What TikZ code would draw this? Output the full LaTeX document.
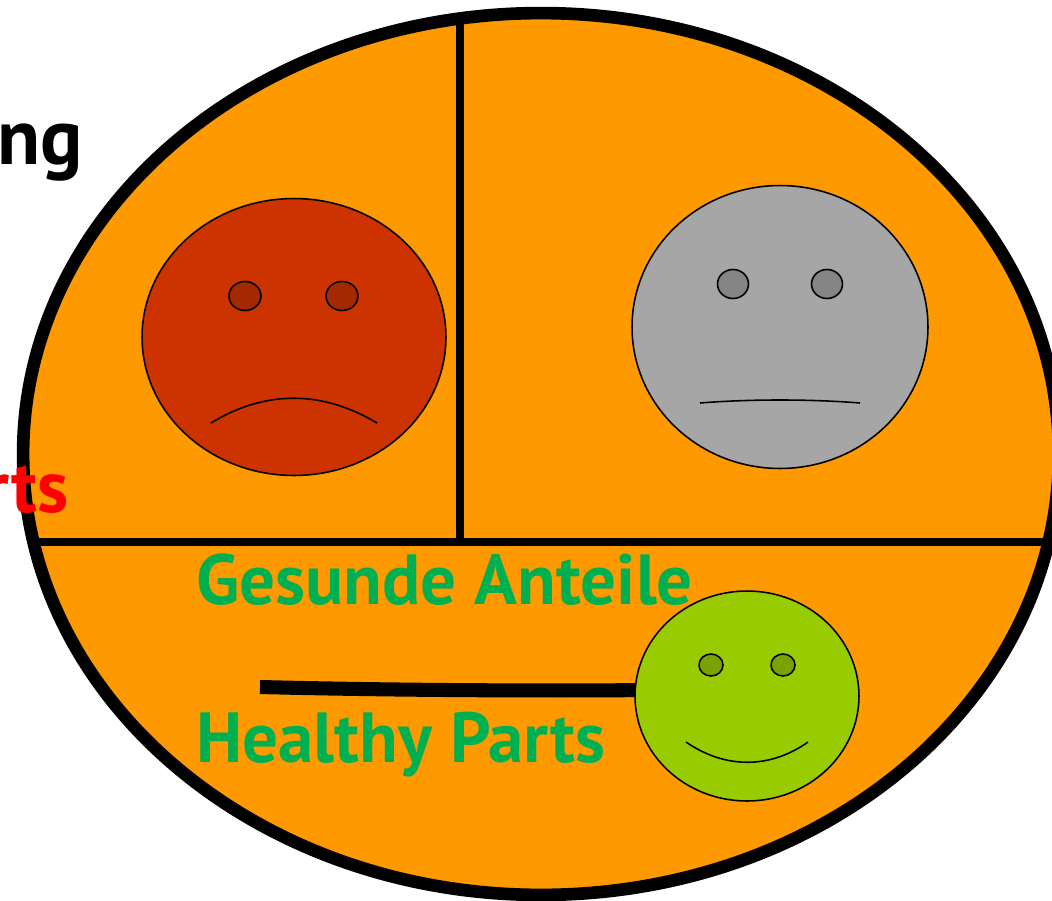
\documentclass[tikz,border=0pt]{standalone}
\usepackage{fontspec}
\setsansfont{PT Sans}
\usetikzlibrary{positioning,shapes.geometric}
\definecolor{bodyorange}{HTML}{FF9900}
\definecolor{sadred}{HTML}{CC3300}
\definecolor{sadeye}{HTML}{A32900}
\definecolor{flatgray}{HTML}{A6A6A6}
\definecolor{flateye}{HTML}{858585}
\definecolor{happygreen}{HTML}{99CC00}
\definecolor{happyeye}{HTML}{7AA300}
\definecolor{labelgreen}{HTML}{00B050}
\tikzset{
  headline/.style={font=\sffamily\bfseries\fontsize{45}{49}\selectfont,text=black,inner sep=0pt},
  redlabel/.style={font=\sffamily\bfseries\fontsize{42}{46}\selectfont,text=red,inner sep=0pt},
  greenlabel/.style={font=\sffamily\bfseries\fontsize{40.4}{44}\selectfont,text=labelgreen,inner sep=0pt,anchor=base west},
  face/.style={draw=black,line width=0.9pt,ellipse,inner sep=0pt,outer sep=0pt},
  eye/.style={draw=black,line width=0.9pt,ellipse,inner sep=0pt,outer sep=0pt},
  mouth/.style={draw=black,line width=0.9pt},
  divider/.style={draw=black,line width=4.4pt}
}
\begin{document}
\begin{tikzpicture}[x=0.02cm,y=-0.02cm]
\path[use as bounding box] (0,0) rectangle (1052,900);
\begin{scope}
\clip (0,0) rectangle (1052,900);
\node[headline,anchor=base east] (ngtext) at (83,164) {ng};
% body
\node[ellipse,draw=black,fill=bodyorange,line width=7.2pt,inner sep=0pt,outer sep=0pt,minimum width=20.72cm,minimum height=17.64cm] (body) at (541,454) {};
\node[redlabel,anchor=base east] (rtstext) at (69,512) {rts};
% dividers
\coordinate (vtop) at (460,22);
\coordinate (vbot) at (460,542);
\coordinate (hleft) at (33,542);
\coordinate (hright) at (1050,542);
\draw[divider] (vtop) -- (vbot);
\draw[divider] (hleft) -- (hright);
% sad face
\node[face,fill=sadred,minimum width=6.08cm,minimum height=5.54cm] (sad) at (294,337) {};
\node[eye,fill=sadeye,minimum width=0.64cm,minimum height=0.58cm] (sadl) at (245,296) {};
\node[eye,fill=sadeye,minimum width=0.64cm,minimum height=0.58cm] (sadr) at (342,296) {};
\draw[mouth] (211,423) .. controls (265,390) and (322,390) .. (377,423);
% neutral face
\node[face,fill=flatgray,minimum width=5.92cm,minimum height=5.66cm] (flat) at (780,327) {};
\node[eye,fill=flateye,minimum width=0.62cm,minimum height=0.58cm] (flatl) at (733,284) {};
\node[eye,fill=flateye,minimum width=0.62cm,minimum height=0.58cm] (flatr) at (827,284) {};
\draw[mouth] (700,403) .. controls (750,399) and (810,399) .. (860,403);
% happy part
\node[greenlabel] (gesunde) at (196,604) {Gesunde Anteile};
\node[greenlabel] (healthy) at (196,762) {Healthy Parts};
\node[face,fill=happygreen,minimum width=4.48cm,minimum height=4.2cm] (happy) at (747,696) {};
\coordinate (barstart) at (260,687);
\draw[black,line width=8pt] (barstart) .. controls (380,690) and (520,691) .. (happy.177);
\node[eye,fill=happyeye,minimum width=0.48cm,minimum height=0.44cm] (happyl) at (711,665) {};
\node[eye,fill=happyeye,minimum width=0.48cm,minimum height=0.44cm] (happyr) at (783,665) {};
\draw[mouth] (686,742) .. controls (725,769) and (770,769) .. (808,742);
\end{scope}
\end{tikzpicture}
\end{document}
